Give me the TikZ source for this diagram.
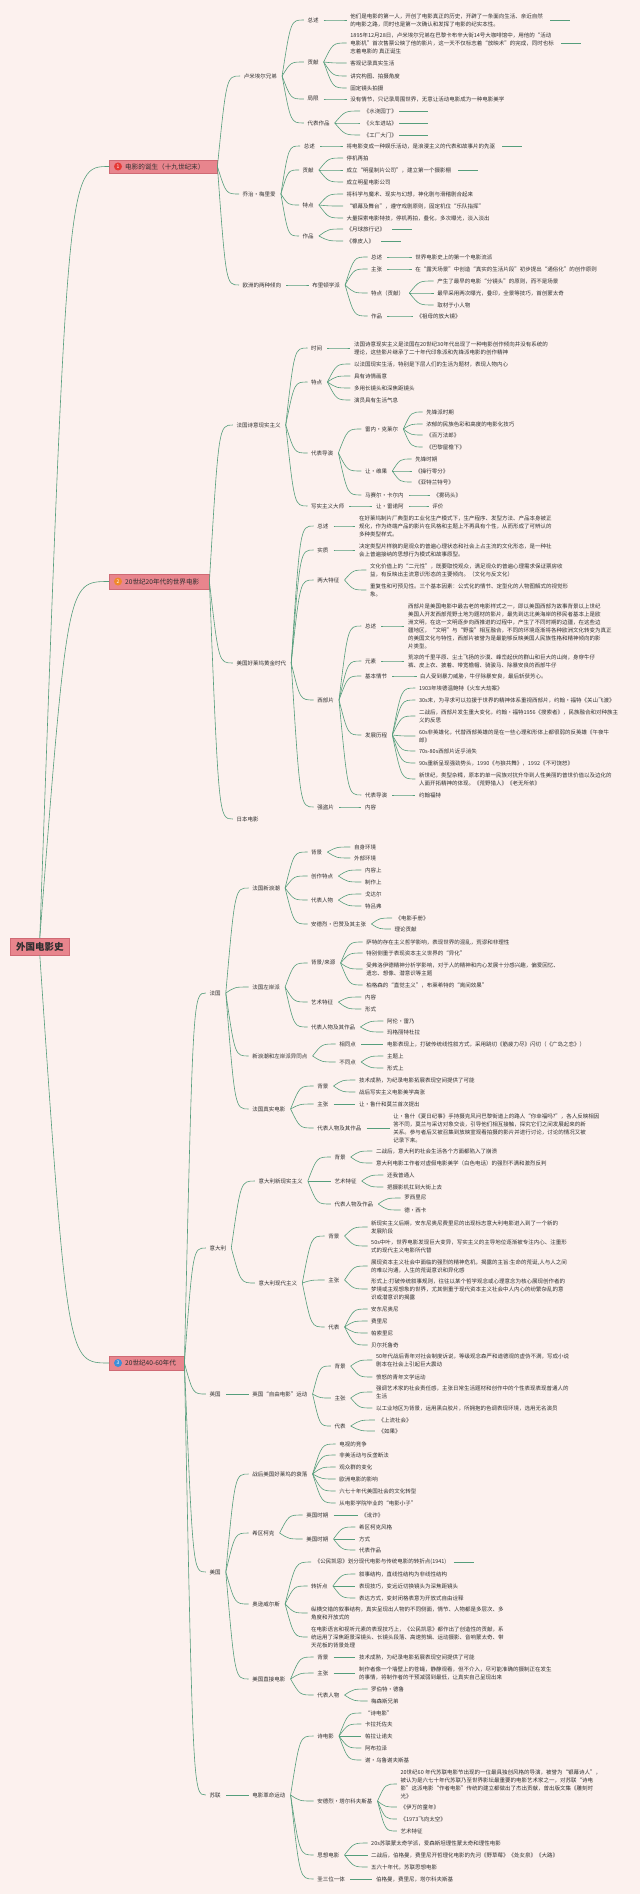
\documentclass[tikz,border=0pt]{standalone}
\usepackage{fontspec}
\setmainfont{Noto Sans CJK SC}
\usetikzlibrary{calc}
\definecolor{paper}{HTML}{FCF1EE}
\definecolor{branch}{HTML}{559E7C}
\definecolor{topicfill}{HTML}{E8858D}
\definecolor{topicline}{HTML}{CF6A74}
\definecolor{ink}{HTML}{2F2F2F}
\definecolor{prio1}{HTML}{E53935}
\definecolor{prio2}{HTML}{F0892A}
\definecolor{prio3}{HTML}{3D8FD9}

\begin{document}
\begin{tikzpicture}[x=1pt, y=-1pt,
  every node/.style={font=\fontsize{5.5}{8}\selectfont, text=ink},
  leaf/.style={anchor=west, align=left, inner xsep=0pt, inner ysep=1pt},
  topic/.style={anchor=west, fill=topicfill, draw=topicline, line width=0.4pt, inner xsep=0pt, inner ysep=0pt, align=left, font=\fontsize{6.6}{7}\selectfont},
  rootbox/.style={fill=topicfill, draw=topicline, line width=0.4pt, inner sep=0pt, minimum width=59pt, minimum height=17pt, font=\fontsize{9.5}{10}\selectfont\bfseries},
  prio/.style={circle, inner sep=0pt, minimum size=8pt, font=\fontsize{5}{5}\selectfont, text=white},
  edge/.style={branch, line width=0.6pt},
]
\fill[paper] (0,0) rectangle (640,1894);

% root and main topics
\node[rootbox] (r) at (39.8,946.5) {外国电影史};
\node[topic, text width=108pt, minimum height=13pt] (a) at (109,166.5) {\hspace*{16pt}电影的诞生（十九世纪末）};
\node[topic, text width=100pt, minimum height=15pt] (b) at (109,581.5) {\hspace*{16pt}20世纪20年代的世界电影};
\node[topic, text width=75pt, minimum height=14pt] (c) at (109,1363) {\hspace*{16pt}20世纪40-60年代};
\node[prio, fill=prio1] (a-m) at (118,166.5) {1};
\node[prio, fill=prio2] (b-m) at (118,581.5) {2};
\node[prio, fill=prio3] (c-m) at (118,1363) {3};

% --- 电影的诞生
\node[leaf] (a1) at (243.7,76) {卢米埃尔兄弟};
\node[leaf] (a1a) at (307.3,20) {总述};
\node[leaf] (a1a1) at (350.2,20) {他们是电影的第一人，开创了电影真正的历史，开辟了一条面向生活、亲近自然\\的电影之路，同时也是第一次确认和发挥了电影的纪实本性。};
\node[leaf] (a1b) at (307.3,62) {贡献};
\node[leaf] (a1b1) at (350.2,43) {1895年12月28日，卢米埃尔兄弟在巴黎卡布辛大街14号大咖啡馆中，用他的“活动\\电影机”首次售票公映了他的影片，这一天不仅标志着“放映术”的完成，同时也标\\志着电影的 真正诞生};
\node[leaf] (a1b2) at (350.2,63) {客观记录真实生活};
\node[leaf] (a1b3) at (350.2,76) {讲究构图、拍摄角度};
\node[leaf] (a1b4) at (350.2,88) {固定镜头拍摄};
\node[leaf] (a1c) at (307.3,99) {局限};
\node[leaf] (a1c1) at (350.2,99) {没有情节，只记录周围世界，无意让活动电影成为一种电影美学};
\node[leaf] (a1d) at (307.3,123) {代表作品};
\node[leaf] (a1d1) at (363.7,111) {《水浇园丁》};
\node[leaf] (a1d2) at (363.7,123) {《火车进站》};
\node[leaf] (a1d3) at (363.7,135) {《工厂大门》};

\node[leaf] (a2) at (242.5,194) {乔治·梅里爱};
\node[leaf] (a2a) at (303.7,146) {总述};
\node[leaf] (a2a1) at (346.5,146) {将电影变成一种娱乐活动，是浪漫主义的代表和故事片的先驱};
\node[leaf] (a2b) at (302.5,170) {贡献};
\node[leaf] (a2b1) at (346.5,158) {停机再拍};
\node[leaf] (a2b2) at (346.5,170) {成立“明星制片公司”，建立第一个摄影棚};
\node[leaf] (a2b3) at (346.5,182) {成立明星电影公司};
\node[leaf] (a2c) at (302.5,205) {特点};
\node[leaf] (a2c1) at (346.5,194) {将科学与魔术、现实与幻想，神化剧与滑稽剧合起来};
\node[leaf] (a2c2) at (346.5,206) {“银幕及舞台”，遵守戏剧原则，固定机位“乐队指挥”};
\node[leaf] (a2c3) at (346.5,218) {大量探索电影特技，停机再拍，叠化，多次曝光，淡入淡出};
\node[leaf] (a2d) at (302.5,236) {作品};
\node[leaf] (a2d1) at (346.5,229) {《月球旅行记》};
\node[leaf] (a2d2) at (346.5,241) {《橡皮人》};

\node[leaf] (a3) at (242.5,285) {欧洲的两种倾向};
\node[leaf] (a3a) at (312.2,285) {布里顿学派};
\node[leaf] (a3a1) at (371,257) {总述};
\node[leaf] (a3a1a) at (415.1,257) {世界电影史上的第一个电影流派};
\node[leaf] (a3a2) at (371,269) {主张};
\node[leaf] (a3a2a) at (415.1,269) {在“露天场景”中创造“真实的生活片段”初步提出“通俗化”的创作原则};
\node[leaf] (a3a3) at (371,293) {特点（贡献）};
\node[leaf] (a3a3a) at (437.1,281) {产生了最早的电影“分镜头”的原则，而不是场景};
\node[leaf] (a3a3b) at (437.1,293) {最早采用两次曝光，叠印，全景等技巧，首创蒙太奇};
\node[leaf] (a3a3c) at (437.1,305) {取材于小人物};
\node[leaf] (a3a4) at (371,316) {作品};
\node[leaf] (a3a4a) at (416.3,316) {《祖母的放大镜》};

% --- 20世纪20年代
\node[leaf] (b1) at (236.3,425) {法国诗意现实主义};
\node[leaf] (b1a) at (311,348) {时间};
\node[leaf] (b1a1) at (353.9,348) {法国诗意现实主义是法国在20世纪30年代出现了一种电影创作倾向并没有系统的\\理论，这些影片继承了二十年代印象派和先锋派电影的创作精神};
\node[leaf] (b1b) at (311,382) {特点};
\node[leaf] (b1b1) at (353.9,364) {以法国现实生活，特别是下层人们的生活为题材，表现人物内心};
\node[leaf] (b1b2) at (353.9,376) {具有诗情画意};
\node[leaf] (b1b3) at (353.9,388) {多用长镜头和深焦距镜头};
\node[leaf] (b1b4) at (353.9,400) {演员具有生活气息};
\node[leaf] (b1c) at (311,453) {代表导演};
\node[leaf] (b1c1) at (364.9,429) {雷内·克莱尔};
\node[leaf] (b1c1a) at (426.1,412) {先锋派时期};
\node[leaf] (b1c1b) at (426.1,424) {浓郁的民族色彩和高度的电影化技巧};
\node[leaf] (b1c1c) at (426.1,435) {《百万法郎》};
\node[leaf] (b1c1d) at (426.1,447) {《巴黎屋檐下》};
\node[leaf] (b1c2) at (364.9,471) {让·维果};
\node[leaf] (b1c2a) at (415.1,459) {先锋时期};
\node[leaf] (b1c2b) at (415.1,471) {《操行零分》};
\node[leaf] (b1c2c) at (415.1,482) {《亚特兰特号》};
\node[leaf] (b1c3) at (364.9,495) {马赛尔·卡尔内};
\node[leaf] (b1c3a) at (433.5,495) {《雾码头》};
\node[leaf] (b1d) at (311,506) {写实主义大师};
\node[leaf] (b1d1) at (375.9,506) {让·雷诺阿};
\node[leaf] (b1d2) at (432.2,506) {评价};

\node[leaf] (b2) at (236.3,663) {美国好莱坞黄金时代};
\node[leaf] (b2a) at (317.1,526) {总述};
\node[leaf] (b2a1) at (358.8,526) {在好莱坞制片厂典型的工业化生产模式下，生产程序、发型方法、产品本身被正\\规化，作为终端产品的影片在风格和主题上不再具有个性，从而形成了可辨认的\\多种类型样式。};
\node[leaf] (b2b) at (317.1,550) {实质};
\node[leaf] (b2b1) at (358.8,550) {决定类型片样貌的是观众的普遍心理状态和社会上占主流的文化形态，是一种社\\会上普遍接纳的思想行为模式和故事原型。};
\node[leaf] (b2c) at (317.1,580) {两大特征};
\node[leaf] (b2c1) at (369.8,570) {文化价值上的“二元性”，既要取悦观众，满足观众的普遍心理需求保证票房收\\益，有反映出主流意识形态的主要倾向。（文化与反文化）};
\node[leaf] (b2c2) at (369.8,590) {重复性和可预见性。三个基本因素：公式化的情节、定型化的人物图解式的视觉形\\象。};
\node[leaf] (b2d) at (317.1,700) {西部片};
\node[leaf] (b2d1) at (364.9,626) {总述};
\node[leaf] (b2d1a) at (407.8,626) {西部片是美国电影中最古老的电影样式之一，即以美国西部为故事背景以上世纪\\美国人开发西部荒野土地为题材的影片，最先到达北美海岸的移民者基本上是欧\\洲文明，在这一文明逐步向西推进的过程中，产生了不同时期的边疆，在这些边\\疆地区，“文明”与“野蛮”相互融合，不同的环境逐渐将各种欧洲文化转变为真正\\的美国文化与特性，西部片被誉为是最能够反映美国人民族性格和精神倾向的影\\片类型。};
\node[leaf] (b2d2) at (364.9,661) {元素};
\node[leaf] (b2d2a) at (407.8,661) {荒凉的千里平原、尘土飞扬的沙漠、峰峦起伏的群山和巨大的山岗，身穿牛仔\\裤、皮上衣、披着、带宽檐帽、骑骏马、除暴安良的西部牛仔};
\node[leaf] (b2d3) at (364.9,676) {基本情节};
\node[leaf] (b2d3a) at (420,676) {白人受到暴力威胁，牛仔除暴安良，最后斩获芳心。};
\node[leaf] (b2d4) at (364.9,735) {发展历程};
\node[leaf] (b2d4a) at (418.8,688) {1903年埃德温鲍特《火车大劫案》};
\node[leaf] (b2d4b) at (418.8,700) {30s末，为寻求可以拉援于世界的精神体系重视西部片，约翰·福特《关山飞渡》};
\node[leaf] (b2d4c) at (418.8,716) {二战后，西部片发生重大变化，约翰·福特1956《搜索者》，民族融合和对种族主\\义的反思};
\node[leaf] (b2d4d) at (418.8,736) {60s非英雄化，代替西部英雄的是在一些心理和形体上都很弱的反英雄《午夜牛\\郎》};
\node[leaf] (b2d4e) at (418.8,751) {70s-80s西部片近乎消失};
\node[leaf] (b2d4f) at (418.8,763) {90s重新呈现强劲势头，1990《与狼共舞》，1992《不可饶恕》};
\node[leaf] (b2d4g) at (418.8,779) {新世纪，类型杂糅，原本的单一民族对抗升华到人性美丽的普世价值以及边化的\\人面开拓精神的体现。《荒野猎人》《老无所依》};
\node[leaf] (b2d5) at (364.9,795) {代表导演};
\node[leaf] (b2d5a) at (418.8,795) {约翰福特};
\node[leaf] (b2e) at (317.1,807) {强盗片};
\node[leaf] (b2e1) at (364.9,807) {内容};
\node[leaf] (b3) at (236.3,819) {日本电影};

% --- 20世纪40-60年代: 法国
\node[leaf] (c1) at (209.4,993) {法国};
\node[leaf] (c1a) at (252.2,888) {法国新浪潮};
\node[leaf] (c1a1) at (311,852) {背景};
\node[leaf] (c1a1a) at (353.9,847) {自身环境};
\node[leaf] (c1a1b) at (353.9,858) {外部环境};
\node[leaf] (c1a2) at (311,876) {创作特点};
\node[leaf] (c1a2a) at (364.9,870) {内容上};
\node[leaf] (c1a2b) at (364.9,882) {制作上};
\node[leaf] (c1a3) at (311,900) {代表人物};
\node[leaf] (c1a3a) at (364.9,894) {戈达尔};
\node[leaf] (c1a3b) at (364.9,906) {特吕弗};
\node[leaf] (c1a4) at (311,924) {安德烈·巴赞及其主张};
\node[leaf] (c1a4a) at (395.5,918) {《电影手册》};
\node[leaf] (c1a4b) at (394.3,929) {理论贡献};
\node[leaf] (c1b) at (252.2,987) {法国左岸派};
\node[leaf] (c1b1) at (311,963) {背景/来源};
\node[leaf] (c1b1a) at (366.1,942) {萨特的存在主义哲学影响，表现世界的混乱，荒谬和非理性};
\node[leaf] (c1b1b) at (366.1,953) {特别侧重于表现资本主义世界的“异化”};
\node[leaf] (c1b1c) at (366.1,969) {受弗洛伊德精神分析学影响，对于人的精神和内心发展十分感兴趣，偏爱回忆、\\遗忘、想像、潜意识等主题};
\node[leaf] (c1b1d) at (366.1,985) {柏格森的“直觉主义”，布莱希特的“离间效果”};
\node[leaf] (c1b2) at (311,1002) {艺术特征};
\node[leaf] (c1b2a) at (364.9,997) {内容};
\node[leaf] (c1b2b) at (364.9,1009) {形式};
\node[leaf] (c1b3) at (311,1027) {代表人物及其作品};
\node[leaf] (c1b3a) at (386.9,1021) {阿伦·雷乃};
\node[leaf] (c1b3b) at (386.9,1032) {玛格丽特杜拉};
\node[leaf] (c1c) at (252.2,1056) {新浪潮和左岸派异同点};
\node[leaf] (c1c1) at (339.2,1044) {相同点};
\node[leaf] (c1c1a) at (386.9,1044) {电影表现上，打破传统线性叙方式，采用跳切《筋疲力尽》闪切（《广岛之恋》）};
\node[leaf] (c1c2) at (339.2,1062) {不同点};
\node[leaf] (c1c2a) at (386.9,1056) {主题上};
\node[leaf] (c1c2b) at (386.9,1068) {形式上};
\node[leaf] (c1d) at (252.2,1109) {法国真实电影};
\node[leaf] (c1d1) at (317.1,1086) {背景};
\node[leaf] (c1d1a) at (358.8,1080) {技术成熟，为纪录电影拓展表现空间提供了可能};
\node[leaf] (c1d1b) at (358.8,1092) {战后写实主义电影美学高涨};
\node[leaf] (c1d2) at (317.1,1104) {主张};
\node[leaf] (c1d2a) at (358.8,1104) {让·鲁什和莫兰首次提出};
\node[leaf] (c1d3) at (317.1,1128) {代表人物及其作品};
\node[leaf] (c1d3a) at (393.1,1128) {让·鲁什《夏日纪事》手持摄克风问巴黎街道上的路人“你幸福吗?”，各人反映相因\\答不同，莫兰与采访对象交谈，引导他们相互接触，探究它们之间发展起来的新\\关系。参与者后又被召集到放映室观看拍摄的影片并进行讨论，讨论的情况又被\\记录下来。};

% 意大利
\node[leaf] (c2) at (209.4,1248) {意大利};
\node[leaf] (c2a) at (258.4,1181) {意大利新现实主义};
\node[leaf] (c2a1) at (334.3,1157) {背景};
\node[leaf] (c2a1a) at (375.9,1151) {二战后，意大利的社会生活各个方面都陷入了崩溃};
\node[leaf] (c2a1b) at (375.9,1163) {意大利电影工作者对虚假电影美学（白色电话）的强烈不满和激烈反判};
\node[leaf] (c2a2) at (334.3,1181) {艺术特征};
\node[leaf] (c2a2a) at (386.9,1175) {还我普通人};
\node[leaf] (c2a2b) at (386.9,1187) {把摄影机扛到大街上去};
\node[leaf] (c2a3) at (334.3,1204) {代表人物及作品};
\node[leaf] (c2a3a) at (404.1,1198) {罗西里尼};
\node[leaf] (c2a3b) at (404.1,1210) {德·西卡};
\node[leaf] (c2b) at (258.4,1283) {意大利现代主义};
\node[leaf] (c2b1) at (328.2,1236) {背景};
\node[leaf] (c2b1a) at (371,1227) {新现实主义后期，安东尼奥尼费里尼的出现标志意大利电影进入到了一个新的\\发展阶段};
\node[leaf] (c2b1b) at (371,1246) {50s中叶，世界电影发现巨大变异，写实主义的主导地位逐渐被专注内心、注重形\\式的现代主义电影所代替};
\node[leaf] (c2b2) at (328.2,1280) {主张};
\node[leaf] (c2b2a) at (371,1266) {展现资本主义社会中面临的强烈的精神危机，揭露的主旨:生命的荒诞,人与人之间\\的难以沟通，人生的荒诞意识和异化感};
\node[leaf] (c2b2b) at (371,1289) {形式上:打破传统叙事规则，往往以某个哲学观念或心理意念为核心展现创作者的\\梦境或主观想象的世界，尤其侧重于现代资本主义社会中人内心的纷繁杂乱的意\\识或潜意识的揭露};
\node[leaf] (c2b3) at (328.2,1327) {代表};
\node[leaf] (c2b3a) at (371,1309) {安东尼奥尼};
\node[leaf] (c2b3b) at (371,1321) {费里尼};
\node[leaf] (c2b3c) at (371,1333) {帕索里尼};
\node[leaf] (c2b3d) at (371,1345) {贝尔托鲁奇};

% 英国
\node[leaf] (c3) at (209.4,1394) {英国};
\node[leaf] (c3a) at (252.2,1394) {英国“自由电影”运动};
\node[leaf] (c3a1) at (334.3,1366) {背景};
\node[leaf] (c3a1a) at (375.9,1360) {50年代战后青年对社会制度诉说，等级观念森严和道德观的虚伪不满，写成小说\\剧本在社会上引起巨大震动};
\node[leaf] (c3a1b) at (375.9,1377) {愤怒的青年文学运动};
\node[leaf] (c3a2) at (334.3,1398) {主张};
\node[leaf] (c3a2a) at (375.9,1392) {强调艺术家的社会责任感，主张日常生活题材和创作中的个性表现表现普通人的\\生活};
\node[leaf] (c3a2b) at (375.9,1408) {以工业地区为背景，运用黑白胶片，所拥抱的色调表现环境，选用无名演员};
\node[leaf] (c3a3) at (334.3,1426) {代表};
\node[leaf] (c3a3a) at (378.4,1420) {《上流社会》};
\node[leaf] (c3a3b) at (378.4,1431) {《如果》};

% 美国
\node[leaf] (c4) at (209.4,1572) {美国};
\node[leaf] (c4a) at (252.2,1474) {战后美国好莱坞的衰落};
\node[leaf] (c4a1) at (339.2,1444) {电视的竞争};
\node[leaf] (c4a2) at (339.2,1455) {非美活动与反垄断法};
\node[leaf] (c4a3) at (339.2,1467) {观众群的变化};
\node[leaf] (c4a4) at (339.2,1479) {欧洲电影的影响};
\node[leaf] (c4a5) at (339.2,1491) {六七十年代美国社会的文化转型};
\node[leaf] (c4a6) at (339.2,1503) {从电影学院毕业的“电影小子”};
\node[leaf] (c4b) at (252.2,1533) {希区柯克};
\node[leaf] (c4b1) at (306.1,1515) {英国时期};
\node[leaf] (c4b1a) at (361.2,1515) {《讹诈》};
\node[leaf] (c4b2) at (306.1,1539) {美国时期};
\node[leaf] (c4b2a) at (358.8,1527) {希区柯克风格};
\node[leaf] (c4b2b) at (358.8,1539) {方式};
\node[leaf] (c4b2c) at (358.8,1550) {代表作品};
\node[leaf] (c4c) at (252.2,1604) {奥逊威尔斯};
\node[leaf] (c4c1) at (314.7,1562) {《公民凯恩》划分现代电影与传统电影的转折点(1941)};
\node[leaf] (c4c2) at (311,1586) {转折点};
\node[leaf] (c4c2a) at (358.8,1574) {叙事结构，直线性结构为非线性结构};
\node[leaf] (c4c2b) at (358.8,1586) {表现技巧，变远近切换镜头为深焦距镜头};
\node[leaf] (c4c2c) at (358.8,1598) {表达方式，变封闭格表意为开放式自由诠释};
\node[leaf] (c4c3) at (311,1613) {纵横交错的叙事结构，真实呈现出人物的不同侧面，情节、人物都是多层次、多\\角度和开放式的};
\node[leaf] (c4c4) at (311,1637) {在电影语言和视听元素的表现技巧上，《公民凯恩》都作出了创造性的贡献，系\\统运用了深焦距景深镜头、长镜头段落、高速剪辑、运动摄影、音响蒙太奇、带\\天花板的背景处理};
\node[leaf] (c4d) at (252.2,1679) {美国直接电影};
\node[leaf] (c4d1) at (317.1,1657) {背景};
\node[leaf] (c4d1a) at (358.8,1657) {技术成熟，为纪录电影拓展表现空间提供了可能};
\node[leaf] (c4d2) at (317.1,1673) {主张};
\node[leaf] (c4d2a) at (358.8,1673) {制作者像一个墙壁上的苍蝇，静静观看，但不介入，尽可能准确的摄制正在发生\\的事情，将制作者的干预减弱到最低，让真实自己呈现出来};
\node[leaf] (c4d3) at (317.1,1695) {代表人物};
\node[leaf] (c4d3a) at (371,1689) {罗伯特·德鲁};
\node[leaf] (c4d3b) at (371,1701) {梅森斯兄弟};

% 苏联
\node[leaf] (c5) at (209.4,1795) {苏联};
\node[leaf] (c5a) at (252.2,1795) {电影革命运动};
\node[leaf] (c5a1) at (317.1,1736) {诗电影};
\node[leaf] (c5a1a) at (364.9,1713) {“诗电影”};
\node[leaf] (c5a1b) at (364.9,1724) {卡拉托佐夫};
\node[leaf] (c5a1c) at (364.9,1736) {帕拉让诺夫};
\node[leaf] (c5a1d) at (364.9,1748) {阿布拉泽};
\node[leaf] (c5a1e) at (364.9,1760) {谢·乌鲁谢夫斯基};
\node[leaf] (c5a2) at (317.1,1801) {安德烈·塔尔科夫斯基};
\node[leaf] (c5a2a) at (400.4,1784) {20世纪60 年代苏联电影节出现的一位最具独创风格的导演，被誉为“银幕诗人”，\\被认为是六七十年代苏联乃至世界影坛最重要的电影艺术家之一，对苏联“诗电\\影”这派电影“作者电影”传统的建立都做出了杰出贡献，曾出版文集《雕刻时\\光》};
\node[leaf] (c5a2b) at (400.4,1807) {《伊万的童年》};
\node[leaf] (c5a2c) at (400.4,1819) {《1973飞向太空》};
\node[leaf] (c5a2d) at (400.4,1831) {艺术特征};
\node[leaf] (c5a3) at (317.1,1855) {思想电影};
\node[leaf] (c5a3a) at (371,1843) {20s苏联蒙太奇学派，爱森斯坦理性蒙太奇和理性电影};
\node[leaf] (c5a3b) at (371,1855) {二战后，伯格曼，费里尼开哲理化电影的先河《野草莓》《处女泉》《大路》};
\node[leaf] (c5a3c) at (371,1867) {五六十年代，苏联思想电影};
\node[leaf] (c5a4) at (317.1,1879) {圣三位一体};
\node[leaf] (c5a4a) at (375.9,1879) {伯格曼，费里尼，塔尔科夫斯基};

% root to main topics
\foreach \src/\dst in {r.north/a, r.north/b, r.south/c}{
  \draw[edge] let \p1=(\src), \p2=(\dst.west) in
    (\p1) .. controls ({\x1+0.4*(\x2-\x1)},\y2) .. (\p2);
}
% main topics to their branches
\foreach \src/\dst in {a/a1, a/a2, a/a3, b/b1, b/b2, b/b3, c/c1, c/c2, c/c3, c/c4, c/c5}{
  \draw[edge] let \p1=(\src.east), \p2=([xshift=-3.5pt]\dst.west) in
    (\p1) .. controls ({\x1+0.4*(\x2-\x1)},\y2) .. (\p2);
}
% all other branches
\foreach \src/\dst in {
  a1/a1a, a1/a1b, a1/a1c, a1/a1d, a1a/a1a1, a1b/a1b1, a1b/a1b2, a1b/a1b3, a1b/a1b4,
  a1c/a1c1, a1d/a1d1, a1d/a1d2, a1d/a1d3,
  a2/a2a, a2/a2b, a2/a2c, a2/a2d, a2a/a2a1, a2b/a2b1, a2b/a2b2, a2b/a2b3,
  a2c/a2c1, a2c/a2c2, a2c/a2c3, a2d/a2d1, a2d/a2d2,
  a3/a3a, a3a/a3a1, a3a/a3a2, a3a/a3a3, a3a/a3a4, a3a1/a3a1a, a3a2/a3a2a,
  a3a3/a3a3a, a3a3/a3a3b, a3a3/a3a3c, a3a4/a3a4a,
  b1/b1a, b1/b1b, b1/b1c, b1/b1d, b1a/b1a1, b1b/b1b1, b1b/b1b2, b1b/b1b3, b1b/b1b4,
  b1c/b1c1, b1c/b1c2, b1c/b1c3, b1c1/b1c1a, b1c1/b1c1b, b1c1/b1c1c, b1c1/b1c1d,
  b1c2/b1c2a, b1c2/b1c2b, b1c2/b1c2c, b1c3/b1c3a, b1d/b1d1, b1d1/b1d2,
  b2/b2a, b2/b2b, b2/b2c, b2/b2d, b2/b2e, b2a/b2a1, b2b/b2b1, b2c/b2c1, b2c/b2c2,
  b2d/b2d1, b2d/b2d2, b2d/b2d3, b2d/b2d4, b2d/b2d5, b2d1/b2d1a, b2d2/b2d2a, b2d3/b2d3a,
  b2d4/b2d4a, b2d4/b2d4b, b2d4/b2d4c, b2d4/b2d4d, b2d4/b2d4e, b2d4/b2d4f, b2d4/b2d4g,
  b2d5/b2d5a, b2e/b2e1,
  c1/c1a, c1/c1b, c1/c1c, c1/c1d,
  c1a/c1a1, c1a/c1a2, c1a/c1a3, c1a/c1a4, c1a1/c1a1a, c1a1/c1a1b, c1a2/c1a2a, c1a2/c1a2b,
  c1a3/c1a3a, c1a3/c1a3b, c1a4/c1a4a, c1a4/c1a4b,
  c1b/c1b1, c1b/c1b2, c1b/c1b3, c1b1/c1b1a, c1b1/c1b1b, c1b1/c1b1c, c1b1/c1b1d,
  c1b2/c1b2a, c1b2/c1b2b, c1b3/c1b3a, c1b3/c1b3b,
  c1c/c1c1, c1c/c1c2, c1c1/c1c1a, c1c2/c1c2a, c1c2/c1c2b,
  c1d/c1d1, c1d/c1d2, c1d/c1d3, c1d1/c1d1a, c1d1/c1d1b, c1d2/c1d2a, c1d3/c1d3a,
  c2/c2a, c2/c2b, c2a/c2a1, c2a/c2a2, c2a/c2a3, c2a1/c2a1a, c2a1/c2a1b,
  c2a2/c2a2a, c2a2/c2a2b, c2a3/c2a3a, c2a3/c2a3b,
  c2b/c2b1, c2b/c2b2, c2b/c2b3, c2b1/c2b1a, c2b1/c2b1b, c2b2/c2b2a, c2b2/c2b2b,
  c2b3/c2b3a, c2b3/c2b3b, c2b3/c2b3c, c2b3/c2b3d,
  c3/c3a, c3a/c3a1, c3a/c3a2, c3a/c3a3, c3a1/c3a1a, c3a1/c3a1b, c3a2/c3a2a, c3a2/c3a2b,
  c3a3/c3a3a, c3a3/c3a3b,
  c4/c4a, c4/c4b, c4/c4c, c4/c4d,
  c4a/c4a1, c4a/c4a2, c4a/c4a3, c4a/c4a4, c4a/c4a5, c4a/c4a6,
  c4b/c4b1, c4b/c4b2, c4b1/c4b1a, c4b2/c4b2a, c4b2/c4b2b, c4b2/c4b2c,
  c4c/c4c1, c4c/c4c2, c4c/c4c3, c4c/c4c4, c4c2/c4c2a, c4c2/c4c2b, c4c2/c4c2c,
  c4d/c4d1, c4d/c4d2, c4d/c4d3, c4d1/c4d1a, c4d2/c4d2a, c4d3/c4d3a, c4d3/c4d3b,
  c5/c5a, c5a/c5a1, c5a/c5a2, c5a/c5a3, c5a/c5a4,
  c5a1/c5a1a, c5a1/c5a1b, c5a1/c5a1c, c5a1/c5a1d, c5a1/c5a1e,
  c5a2/c5a2a, c5a2/c5a2b, c5a2/c5a2c, c5a2/c5a2d,
  c5a3/c5a3a, c5a3/c5a3b, c5a3/c5a3c, c5a4/c5a4a}{
  \draw[edge] let \p1=([xshift=5pt]\src.east), \p2=([xshift=-3.5pt]\dst.west) in
    (\p1) .. controls ({\x1+0.4*(\x2-\x1)},\y2) .. (\p2);
}
% trailing stubs
\foreach \n in {a1a1, a1b1, a2a1, a2b2, a2d1, a2d2, c4c1}
  \draw[edge] ([xshift=7pt]\n.east) -- ++(20,0);
\foreach \n in {a1d1, a1d2, a1d3}
  \draw[edge] ([xshift=2pt]\n.east) -- ++(29,0);
\end{tikzpicture}
\end{document}
